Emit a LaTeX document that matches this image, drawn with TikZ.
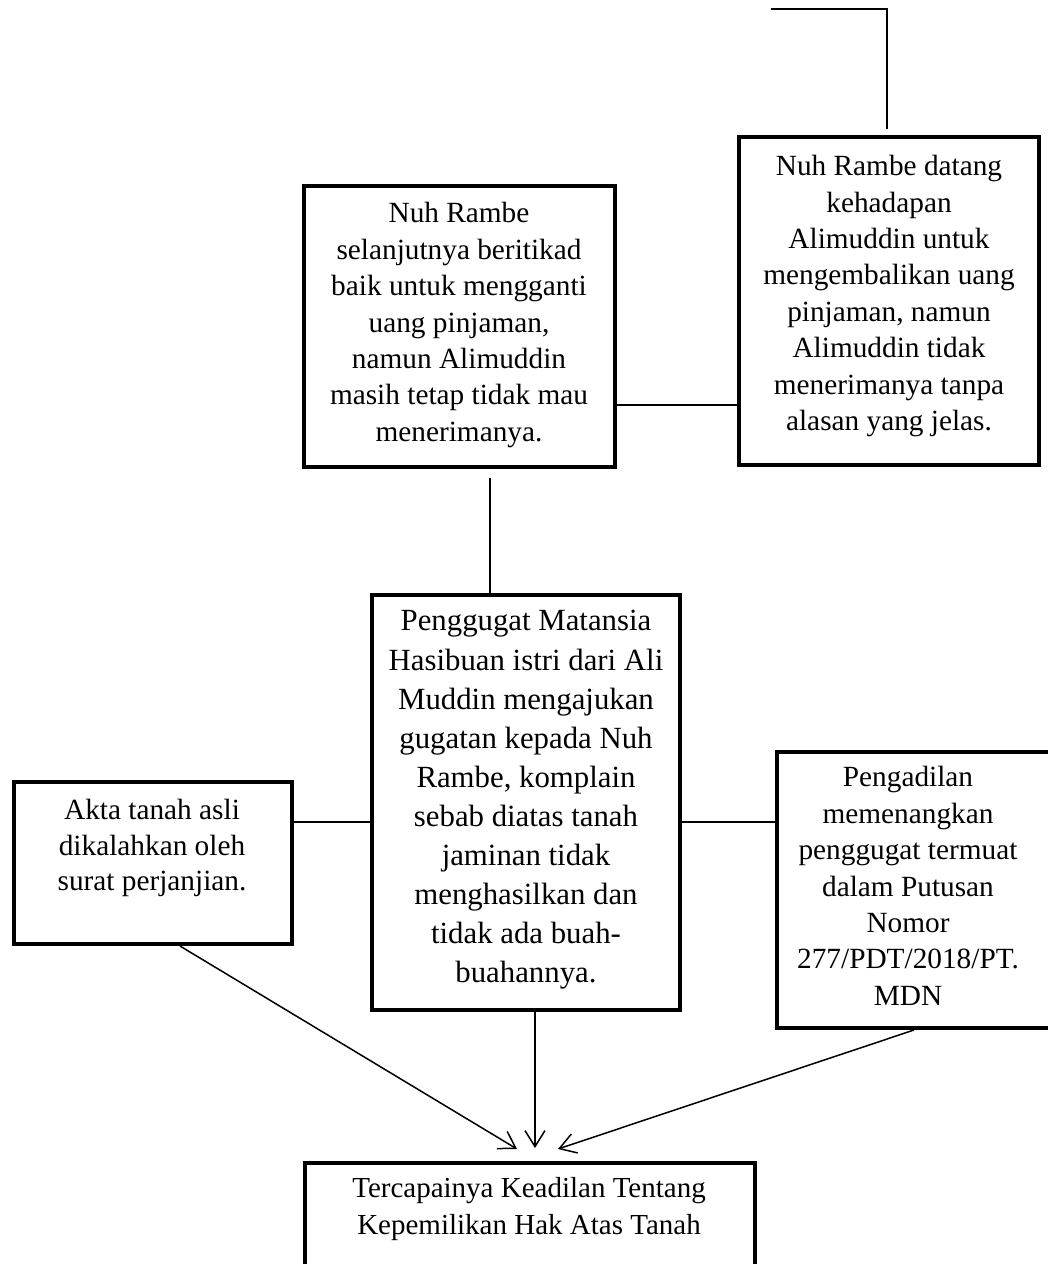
\documentclass[tikz,border=0pt]{standalone}
\usepackage{fontspec}
\setmainfont{Liberation Serif}
\usetikzlibrary{arrows.meta}
\begin{document}
\begin{tikzpicture}[x=1pt,y=-1pt,
  box/.style={draw, line width=4pt, rectangle, inner sep=0pt},
  txt/.style={align=center, inner sep=0pt, font=\fontsize{29.3}{36.4}\selectfont},
  conn/.style={line width=1.5pt},
  arr/.style={line width=1.5pt, -{Straight Barb[length=16pt,width=20pt]}}]
\useasboundingbox (0,0) rectangle (1048,1264);
\clip (0,0) rectangle (1048,1264);

% boxes
\node[box, minimum width=300pt, minimum height=328pt] (tr) at (889,301) {};
\node[box, minimum width=311pt, minimum height=281pt] (tl) at (459.5,326.5) {};
\node[box, minimum width=308pt, minimum height=415pt] (ct) at (526,802.5) {};
\node[box, minimum width=278pt, minimum height=162pt] (lf) at (153,863) {};
\node[box, minimum width=283pt, minimum height=276pt] (rb) at (918.5,890) {};
\node[box, minimum width=450pt, minimum height=140pt] (bt) at (530,1233) {};

% texts
\node[txt] (trt) at (889,296) {Nuh Rambe datang\\kehadapan\\Alimuddin untuk\\mengembalikan uang\\pinjaman, namun\\Alimuddin tidak\\menerimanya tanpa\\alasan yang jelas.};
\node[txt] (tlt) at (459,325) {Nuh Rambe\\selanjutnya beritikad\\baik untuk mengganti\\uang pinjaman,\\namun Alimuddin\\masih tetap tidak mau\\menerimanya.};
\node[txt, font=\fontsize{30.8}{39.1}\selectfont] (ctt) at (526,800) {Penggugat Matansia\\Hasibuan istri dari Ali\\Muddin mengajukan\\gugatan kepada Nuh\\Rambe, komplain\\sebab diatas tanah\\jaminan tidak\\menghasilkan dan\\tidak ada buah-\\buahannya.};
\node[txt, font=\fontsize{29.3}{35.6}\selectfont] (lft) at (152,848) {Akta tanah asli\\dikalahkan oleh\\surat perjanjian.};
\node[txt] (rbt) at (908,886) {Pengadilan\\memenangkan\\penggugat termuat\\dalam Putusan\\Nomor\\277/PDT/2018/PT.\\MDN};
\node[txt, font=\fontsize{29}{37}\selectfont] (btt) at (529,1209) {Tercapainya Keadilan Tentang\\Kepemilikan Hak Atas Tanah};

% connectors
\coordinate (ts) at (771,9);
\coordinate (h1) at (0,405);
\coordinate (v1) at (490,0);
\coordinate (h2) at (0,822);
\coordinate (tipL) at (517,1149);
\coordinate (tipC) at (535,1148);
\coordinate (tipR) at (558,1149);

\draw[conn, shorten >=6pt] (ts) -| ([xshift=-2pt]tr.north);
\draw[conn] (tl.east |- h1) -- (tr.west |- h1);
\draw[conn, shorten <=9pt] (tl.south -| v1) -- (ct.north -| v1);
\draw[conn] (lf.east |- h2) -- (ct.west |- h2);
\draw[conn] (ct.east |- h2) -- (rb.west |- h2);

\draw[arr] ([xshift=27pt]lf.south) -- (tipL);
\draw[arr] (ct.south -| tipC) -- (tipC);
\draw[arr] ([xshift=-4.5pt]rb.south) -- (tipR);
\end{tikzpicture}
\end{document}
